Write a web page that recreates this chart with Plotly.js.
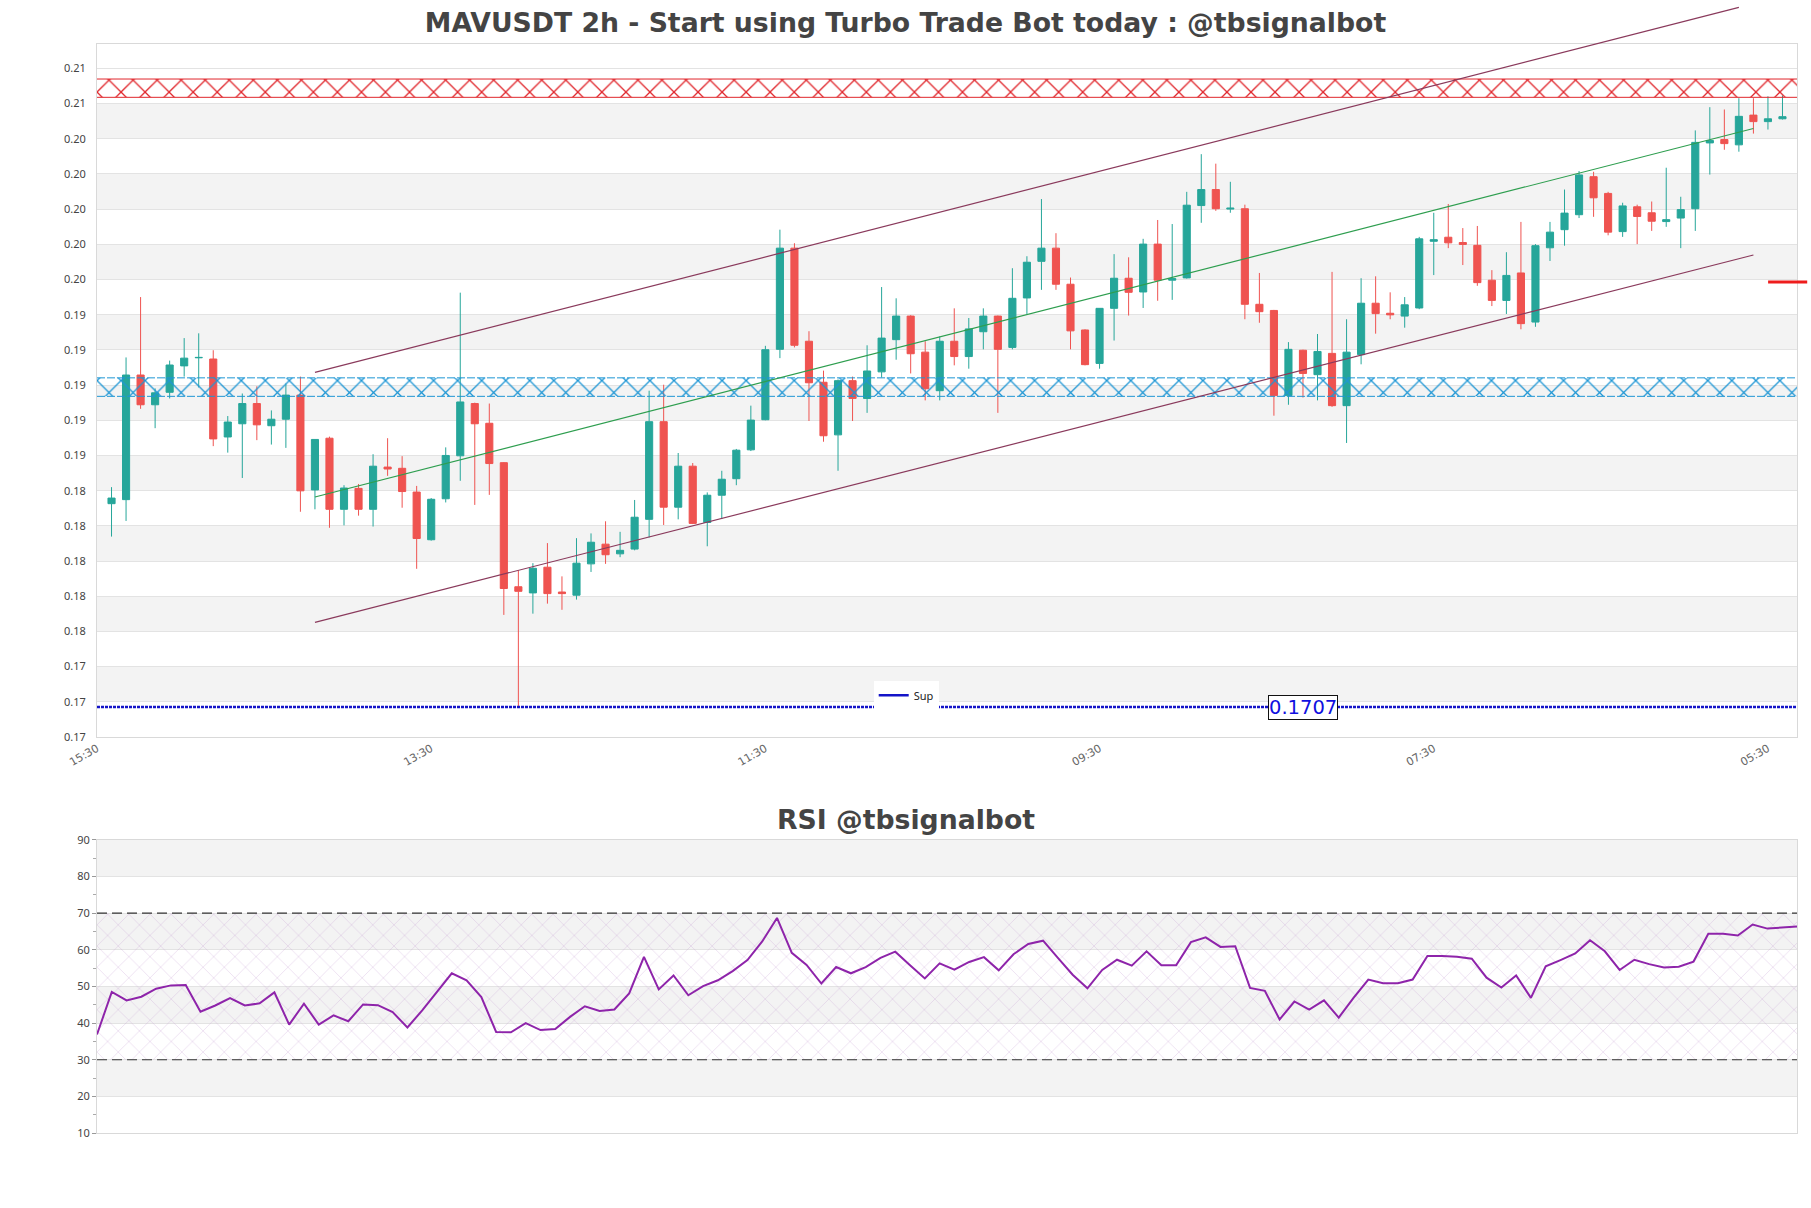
<!DOCTYPE html>
<html>
<head>
<meta charset="utf-8">
<script src="https://cdn.plot.ly/plotly-3.0.1.min.js"></script>
<style>
  html, body { margin: 0; padding: 0; background: #fff; }
  #chart { width: 1811px; height: 1208px; }
</style>
</head>
<body>
<div id="chart"></div>
<script>
// 2h candles, oldest first
const openP = [0.18226,0.18249,0.18957,0.18788,0.18859,0.19009,0.19055,0.19048,0.18605,0.18680,
  0.18795,0.18669,0.18706,0.18843,0.18304,0.18598,0.18194,0.18313,0.18194,0.18434,
  0.18427,0.18292,0.18021,0.18254,0.18498,0.18795,0.18683,0.18459,0.17754,0.17719,
  0.17865,0.17724,0.17706,0.17884,0.17996,0.17941,0.17968,0.18137,0.18692,0.18206,
  0.18439,0.18119,0.18274,0.18368,0.18532,0.18703,0.19103,0.19678,0.19149,0.18916,
  0.18617,0.18925,0.18824,0.18975,0.19158,0.19292,0.19087,0.18868,0.19149,0.19062,
  0.19203,0.19292,0.19114,0.19395,0.19603,0.19678,0.19473,0.19213,0.19023,0.19336,
  0.19507,0.19429,0.19701,0.19496,0.19509,0.19920,0.20011,0.19900,0.19902,0.19359,
  0.19324,0.18840,0.19098,0.18959,0.19080,0.18783,0.19073,0.19365,0.19308,0.19292,
  0.19338,0.19717,0.19740,0.19710,0.19694,0.19496,0.19381,0.19537,0.19258,0.19680,
  0.19783,0.19868,0.20084,0.19989,0.19772,0.19913,0.19879,0.19829,0.19849,0.19902,
  0.20276,0.20295,0.20265,0.20434,0.20397,0.20413];
const highP = [0.18320,0.19057,0.19400,0.18881,0.19039,0.19167,0.19194,0.19098,0.18724,0.18852,
  0.18893,0.18756,0.18909,0.18948,0.18591,0.18607,0.18331,0.18338,0.18507,0.18598,
  0.18496,0.18327,0.18258,0.18546,0.19425,0.18800,0.18795,0.18462,0.17847,0.17888,
  0.18002,0.17813,0.18030,0.18057,0.18126,0.18066,0.18247,0.18868,0.18902,0.18514,
  0.18457,0.18290,0.18413,0.18537,0.18783,0.19123,0.19783,0.19706,0.19206,0.18982,
  0.18932,0.18948,0.19126,0.19457,0.19393,0.19297,0.19149,0.19176,0.19336,0.19281,
  0.19336,0.19295,0.19564,0.19632,0.19957,0.19763,0.19511,0.19217,0.19336,0.19644,
  0.19626,0.19731,0.19838,0.19815,0.19998,0.20212,0.20158,0.20055,0.19925,0.19537,
  0.19327,0.19144,0.19101,0.19190,0.19543,0.19274,0.19507,0.19518,0.19427,0.19400,
  0.19742,0.19879,0.19929,0.19792,0.19804,0.19553,0.19655,0.19827,0.19701,0.19827,
  0.20011,0.20116,0.20112,0.19998,0.19936,0.19925,0.19943,0.20135,0.19970,0.20347,
  0.20479,0.20466,0.20530,0.20530,0.20541,0.20546];
const lowP = [0.18039,0.18128,0.18765,0.18655,0.18824,0.18948,0.18886,0.18553,0.18516,0.18372,
  0.18587,0.18562,0.18543,0.18180,0.18194,0.18089,0.18103,0.18158,0.18096,0.18384,
  0.18203,0.17856,0.18016,0.18233,0.18356,0.18219,0.18276,0.17594,0.17070,0.17601,
  0.17658,0.17623,0.17681,0.17838,0.17884,0.17922,0.17961,0.18034,0.18105,0.18137,
  0.18110,0.17984,0.18139,0.18331,0.18525,0.18700,0.19053,0.19114,0.18696,0.18578,
  0.18413,0.18696,0.18742,0.18943,0.19044,0.18966,0.18813,0.18813,0.19012,0.18993,
  0.19103,0.18742,0.19103,0.19304,0.19441,0.19441,0.19103,0.19012,0.18993,0.19153,
  0.19295,0.19338,0.19379,0.19384,0.19505,0.19822,0.19890,0.19879,0.19274,0.19254,
  0.18726,0.18788,0.18829,0.18813,0.18776,0.18571,0.19018,0.19192,0.19274,0.19226,
  0.19331,0.19525,0.19678,0.19582,0.19464,0.19349,0.19304,0.19217,0.19231,0.19605,
  0.19692,0.19849,0.19856,0.19751,0.19742,0.19701,0.19776,0.19799,0.19678,0.19776,
  0.20096,0.20237,0.20226,0.20329,0.20352,0.20409];
const closeP = [0.18258,0.18957,0.18788,0.18856,0.19014,0.19053,0.19057,0.18594,0.18690,0.18795,
  0.18674,0.18706,0.18843,0.18299,0.18591,0.18194,0.18315,0.18194,0.18439,0.18423,
  0.18295,0.18028,0.18251,0.18500,0.18804,0.18680,0.18454,0.17744,0.17728,0.17859,
  0.17715,0.17715,0.17888,0.18007,0.17936,0.17961,0.18149,0.18692,0.18206,0.18439,
  0.18114,0.18274,0.18365,0.18530,0.18701,0.19101,0.19678,0.19126,0.18913,0.18612,
  0.18925,0.18824,0.18980,0.19167,0.19292,0.19078,0.18879,0.19149,0.19062,0.19219,
  0.19292,0.19103,0.19393,0.19598,0.19678,0.19473,0.19208,0.19016,0.19336,0.19507,
  0.19427,0.19701,0.19496,0.19505,0.19922,0.20011,0.19902,0.19905,0.19359,0.19317,
  0.18840,0.19103,0.18966,0.19091,0.18783,0.19087,0.19365,0.19306,0.19299,0.19356,
  0.19731,0.19726,0.19708,0.19699,0.19482,0.19381,0.19523,0.19249,0.19692,0.19769,
  0.19877,0.20094,0.19964,0.19769,0.19918,0.19858,0.19831,0.19840,0.19897,0.20279,
  0.20290,0.20272,0.20427,0.20397,0.20413,0.20425];

const rsiVals = [36.9,48.5,46.2,47.2,49.4,50.3,50.4,43.1,44.8,46.8,
  44.8,45.4,48.4,39.6,45.3,39.6,42.1,40.5,45.1,44.9,
  43.0,38.8,43.5,48.6,53.6,51.7,47.1,37.6,37.5,40.0,
  38.1,38.4,41.7,44.6,43.3,43.7,48.1,58.1,49.2,53.0,
  47.6,50.1,51.7,54.2,57.2,62.3,68.7,59.2,55.9,50.8,
  55.3,53.6,55.3,57.8,59.5,55.8,52.2,56.3,54.6,56.7,
  58.0,54.4,58.8,61.6,62.5,57.8,53.2,49.5,54.5,57.3,
  55.7,59.6,55.8,55.8,62.1,63.4,60.8,61.0,49.6,48.8,
  41.0,45.9,43.7,46.2,41.5,46.9,51.9,50.9,50.9,51.9,
  58.3,58.3,58.1,57.6,52.4,49.7,53.0,46.9,55.5,57.2,
  59.0,62.6,59.6,54.5,57.3,56.1,55.2,55.4,56.8,64.4,
  64.4,63.9,66.9,65.8,66.1,66.4];

const yTickVals = [0.169,0.171,0.173,0.175,0.177,0.179,0.181,0.183,0.185,0.187,
  0.189,0.191,0.193,0.195,0.197,0.199,0.201,0.203,0.205,0.207];
const yTickText = ['0.17','0.17','0.17','0.18','0.18','0.18','0.18','0.18','0.19','0.19',
  '0.19','0.19','0.19','0.20','0.20','0.20','0.20','0.20','0.21','0.21'];
const rsiTicks = [10,20,30,40,50,60,70,80,90];

const supLevel = 0.1707;
const resZone = [0.20535, 0.20639];
const supZone = [0.18836, 0.18941];
const markLevel = 0.19486;
// channel: [candle index, price] at each end
const chUpper = [[14, 0.18972], [112, 0.21046]];
const chMid = [[14, 0.18264], [113, 0.20358]];
const chLower = [[14, 0.17552], [113, 0.19639]];

// time axis: 2h candles, last one at 07:30
const stepMs = 2 * 3600 * 1000;
const lastCandle = Date.UTC(2024, 3, 12, 7, 30);
function slotTime(i) {
  const ms = lastCandle - (openP.length - 1 - i) * stepMs;
  return new Date(ms).toISOString().slice(0, 16).replace('T', ' ');
}
const times = openP.map((_, i) => slotTime(i));
const xRange = [slotTime(-1), slotTime(openP.length)];
const rsiX = rsiVals.map((_, i) => i);

const yRange = [0.169, 0.20838];
const mainDom = [0.3636, 1];
const rsiDom = [0, 0.2691];
const FONT = 'Noto Sans, Open Sans, sans-serif';
const FONT_WIDE = 'DejaVu Sans, sans-serif';

// price -> paper y, so the channel lines are not cut at the plot top
function py(v) {
  return mainDom[0] + (v - yRange[0]) / (yRange[1] - yRange[0]) * (mainDom[1] - mainDom[0]);
}

function zoneTrace(z, color) {
  return {
    type: 'scatter', mode: 'lines', xaxis: 'x', yaxis: 'y',
    x: [xRange[0], xRange[1], xRange[1], xRange[0], xRange[0]],
    y: [z[0], z[0], z[1], z[1], z[0]],
    fill: 'toself', fillcolor: 'rgba(0,0,0,0)',
    fillpattern: { shape: 'x', fgcolor: color, size: 17, solidity: 0.15 },
    line: { width: 0 }, hoverinfo: 'skip', showlegend: false
  };
}

const traces = [
  zoneTrace(resZone, '#e0262c'),
  zoneTrace(supZone, '#1e96d4'),
  {
    type: 'candlestick', x: times, open: openP, high: highP, low: lowP, close: closeP,
    xaxis: 'x', yaxis: 'y', showlegend: false,
    increasing: { line: { color: '#26a69a', width: 1 }, fillcolor: '#26a69a' },
    decreasing: { line: { color: '#ef5350', width: 1 }, fillcolor: '#ef5350' }
  },
  {
    type: 'scatter', mode: 'lines', name: 'Sup', xaxis: 'x', yaxis: 'y',
    x: xRange, y: [supLevel, supLevel], showlegend: false, legendgroup: 'sup',
    line: { color: '#1414c8', width: 2.5, dash: '3px,1px' }
  },
  {
    // legend entry for the support line (solid key like the original)
    type: 'scatter', mode: 'lines', name: 'Sup', xaxis: 'x', yaxis: 'y',
    x: [null], y: [null], legendgroup: 'sup',
    line: { color: '#1414c8', width: 2.5 }
  },
  {
    type: 'scatter', mode: 'lines', xaxis: 'x2', yaxis: 'y2',
    x: [rsiX[0], rsiX[rsiX.length - 1], rsiX[rsiX.length - 1], rsiX[0], rsiX[0]],
    y: [30, 30, 70, 70, 30],
    fill: 'toself', fillcolor: 'rgba(0,0,0,0)',
    fillpattern: { shape: 'x', fgcolor: 'rgba(190,140,205,0.55)', size: 15, solidity: 0.06 },
    line: { width: 0 }, hoverinfo: 'skip', showlegend: false
  },
  {
    type: 'scatter', mode: 'lines', xaxis: 'x2', yaxis: 'y2', showlegend: false,
    x: rsiX, y: rsiVals, line: { color: '#8e24aa', width: 2 }
  }
];

const shapes = [];
// alternating grey bands
for (let k = 1; k < yTickVals.length - 1; k += 2) {
  shapes.push({ type: 'rect', xref: 'paper', yref: 'y', x0: 0, x1: 1,
    y0: yTickVals[k], y1: yTickVals[k + 1], fillcolor: '#f3f3f3', line: { width: 0 }, layer: 'below' });
}
for (let k = 1; k < rsiTicks.length - 1; k += 2) {
  shapes.push({ type: 'rect', xref: 'paper', yref: 'y2', x0: 0, x1: 1,
    y0: rsiTicks[k], y1: rsiTicks[k + 1], fillcolor: '#f3f3f3', line: { width: 0 }, layer: 'below' });
}
// zone borders
[resZone[0], resZone[1]].forEach(v => shapes.push({ type: 'line', xref: 'paper', yref: 'y',
  x0: 0, x1: 1, y0: v, y1: v, line: { color: '#e0262c', width: 1 } }));
[supZone[0], supZone[1]].forEach(v => shapes.push({ type: 'line', xref: 'paper', yref: 'y',
  x0: 0, x1: 1, y0: v, y1: v, line: { color: '#1e96d4', width: 1, dash: '8px,2px' } }));
// channel
[[chUpper, '#8a3a5c'], [chLower, '#8a3a5c'], [chMid, '#2e9e4f']].forEach(([c, col]) => {
  shapes.push({ type: 'line', xref: 'x', yref: 'paper',
    x0: times[c[0][0]], y0: py(c[0][1]), x1: times[c[1][0]], y1: py(c[1][1]),
    line: { color: col, width: 1.2 } });
});
// current level marker on the right edge
shapes.push({ type: 'line', xref: 'paper', yref: 'y', x0: 0.983, x1: 1.006,
  y0: markLevel, y1: markLevel, line: { color: '#ee1c1c', width: 3 } });
// RSI 70 / 30
[70, 30].forEach(v => shapes.push({ type: 'line', xref: 'paper', yref: 'y2', x0: 0, x1: 1,
  y0: v, y1: v, line: { color: '#333', width: 1.2, dash: '10px,5px' } }));

const layout = {
  width: 1811, height: 1208,
  margin: { l: 97, r: 14, t: 44, b: 75 },
  paper_bgcolor: '#fff', plot_bgcolor: '#fff',
  font: { family: FONT, size: 11, color: '#444' },
  title: {
    text: 'MAVUSDT 2h - Start using Turbo Trade Bot today : @tbsignalbot',
    font: { family: FONT_WIDE, size: 26.7, color: '#444', weight: 'bold' },
    x: 0.5, xanchor: 'center', y: 1 - 23 / 1208, yanchor: 'middle'
  },
  showlegend: true,
  legend: { x: 0.476, xanchor: 'center', y: 0.402, yanchor: 'middle',
    bgcolor: '#fff', font: { size: 11, color: '#222' } },
  xaxis: {
    type: 'date', domain: [0, 1], anchor: 'y', range: xRange,
    rangeslider: { visible: false },
    tick0: times[times.length - 2], dtick: 23 * stepMs, tickformat: '%H:%M',
    tickangle: -30, tickfont: { family: FONT_WIDE, size: 11, color: '#666' },
    showgrid: false, showline: true, mirror: true, linecolor: '#d9d9d9', zeroline: false
  },
  yaxis: {
    domain: mainDom, anchor: 'x', range: yRange,
    tickvals: yTickVals, ticktext: yTickText, tickfont: { size: 11, color: '#444' },
    ticklabelstandoff: 8,
    showgrid: true, gridcolor: '#e3e3e3', showline: true, mirror: true, linecolor: '#d9d9d9',
    zeroline: false
  },
  xaxis2: {
    domain: [0, 1], anchor: 'y2', range: [rsiX[0], rsiX[rsiX.length - 1]],
    showticklabels: false, showgrid: false, zeroline: false,
    showline: true, mirror: true, linecolor: '#d9d9d9'
  },
  yaxis2: {
    domain: rsiDom, anchor: 'x2', range: [10, 90],
    tickvals: rsiTicks, ticks: 'outside', ticklen: 4, tickcolor: '#999',
    minor: { dtick: 5, ticks: 'outside', ticklen: 3, tickcolor: '#aaa', showgrid: false },
    tickfont: { size: 11, color: '#444' },
    showgrid: true, gridcolor: '#e3e3e3', zeroline: false,
    showline: true, mirror: true, linecolor: '#d9d9d9'
  },
  annotations: [
    { xref: 'paper', yref: 'paper', x: (905.5 - 97) / 1700, y: (1133 - 820) / 1089,
      xanchor: 'center', yanchor: 'middle', showarrow: false,
      text: 'RSI @tbsignalbot', font: { family: FONT_WIDE, size: 26.7, color: '#444', weight: 'bold' } },
    { xref: 'x', yref: 'y', x: times[82], y: supLevel, showarrow: false,
      text: supLevel.toFixed(4), font: { family: FONT_WIDE, size: 19.5, color: '#1010e0' },
      bgcolor: '#fff', bordercolor: '#111', borderwidth: 1, borderpad: 0 }
  ],
  shapes: shapes
};

Plotly.newPlot('chart', traces, layout, { displayModeBar: false, staticPlot: true });
</script>
</body>
</html>
